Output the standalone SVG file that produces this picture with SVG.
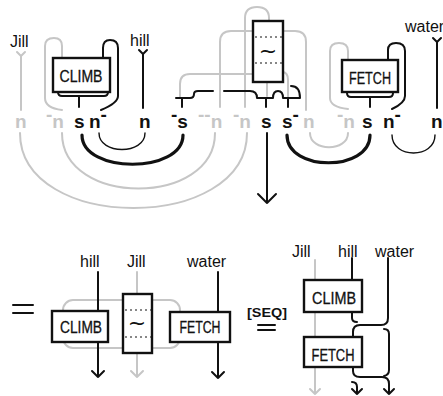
<svg xmlns="http://www.w3.org/2000/svg" width="443" height="396" viewBox="0 0 443 396">
<style>
.w{fill:none;stroke:#111;stroke-width:2;stroke-linecap:round;stroke-linejoin:round}
.wt{fill:none;stroke:#111;stroke-width:1.4;stroke-linecap:round}
.wk{fill:none;stroke:#111;stroke-width:3.2;stroke-linecap:round}
.g{fill:none;stroke:#c6c6c6;stroke-width:2;stroke-linecap:round;stroke-linejoin:round}
.box{fill:#fff;stroke:#111;stroke-width:2.4}
.dash{stroke:#111;stroke-width:1.2;stroke-dasharray:2 3}
.lbl{font-family:"Liberation Sans",Arial,sans-serif;font-size:16px;fill:#111}
.bt{font-family:"Liberation Sans",Arial,sans-serif;font-size:17px;fill:#111;stroke:#111;stroke-width:0.3}
.sw{font-family:"DejaVu Sans",sans-serif;font-size:22px;fill:#111}
.ty{font-family:"Liberation Sans",Arial,sans-serif;font-size:19px;font-weight:bold;fill:#111}
.tg{font-family:"Liberation Sans",Arial,sans-serif;font-size:19px;font-weight:bold;fill:#c6c6c6}
</style>
<rect width="443" height="396" fill="#fff"/>
<g id="connectors">
  <path class="g" d="M17,52 L21,56 L25,52 M21,56 L21,110"/>
  <path class="g" d="M62,58 L62,46 Q62,38 54,38 Q45,38 45,46 L45,98 Q45,108 62,110"/>
  <path class="g" d="M245,107 L245,18 Q245,7 257,7 Q269,7 269,18 L269,21"/>
  <path class="g" d="M220,107 L220,42 Q220,31 231,31 L295,31 Q306,31 306,42 L306,110"/>
  <path class="g" d="M180,97 L180,84 Q180,74 190,74 L253,74"/>
  <path class="g" d="M282,72 Q288,72 288,80 L288,97"/>
  <path class="g" d="M267,82 L267,96"/>
  <path class="g" d="M348,60 L348,51 Q348,43 339,43 Q330,43 330,51 L330,98 Q330,107 348,109"/>
  <path class="w" d="M139,50 L143,54 L147,50 M143,54 L143,108"/>
  <path class="w" d="M433,38 L437,42 L441,38 M437,42 L437,108"/>
  <path class="w" d="M103,58 L103,48 Q103,40 110,40 Q118,40 118,48 L118,96 Q118,103 101,110"/>
  <path class="w" d="M388,60 L388,50 Q388,43 396,43 Q405,43 405,51 L405,96 Q405,103 392,109"/>
  <path class="w" stroke-width="2.6" d="M58,92 Q58,96 62,96 L104,96 Q108,96 108,92 M79,96 L79,107"/>
  <path class="w" stroke-width="2.6" d="M347,93 Q347,97 351,97 L389,97 Q393,97 393,93 M370,97 L370,107"/>
  <path class="w" stroke-width="2.6" d="M176,98 L190,98 Q194,98 194,94 Q194,91 198,91 L213,91 M182,98 L182,107"/>
  <path class="w" stroke-width="2.6" d="M224,91 L250,91 Q257,91 257,98 L273,98 Q273,91 278,91 Q283,91 283,98 L300,98 Q300,86 291,86 M266,98 L266,107 M288,98 L288,107"/>
  <path class="wt" d="M99,133 C99,155 145,155 145,133"/>
  <path class="wk" d="M82,135 C82,174 183,174 183,135"/>
  <path class="g" d="M62,133 C62,207 215,207 215,133"/>
  <path class="g" d="M20,133 C20,233 247,233 247,133"/>
  <path class="w" stroke-width="2.6" d="M267,133 L267,203 M258,194 L267,203 L276,194"/>
  <path class="wk" d="M287,135 C287,172 370,172 370,135"/>
  <path class="g" d="M310,133 C310,152 348,152 348,133"/>
  <path class="wt" d="M392,135 C392,159 435,159 435,135"/>
  <rect class="g" x="63" y="300" width="117" height="48" rx="10"/>
  <path class="w" d="M98,272 L98,377 M92,371 L98,377 L104,371"/>
  <path class="g" d="M137,272 L137,377 M131,371 L137,377 L143,371"/>
  <path class="w" d="M218,272 L218,378 M212,372 L218,378 L224,372"/>
  <path class="g" d="M315,260 L315,394 M310,389 L315,394 L320,389"/>
  <path class="w" d="M352,258 L352,318 Q352,322 357,322"/>
  <path class="w" d="M388,258 L388,318 Q388,325 381,325 L360,325 Q353,325 353,332 L353,337"/>
  <path class="w" d="M384,329 Q389,329 389,334 L389,370 Q389,375 384,376"/>
  <path class="w" d="M353,367 L353,371 Q353,377 360,377 L382,377 Q389,377 389,384 L389,394 M384,389 L389,394 L394,389"/>
  <path class="w" d="M352,382 Q357,382 357,387 L357,394 M352,389 L357,394 L362,389"/>
</g>
<g id="climb-top">
  <rect class="box" x="53" y="58" width="57" height="34"/>
  <text class="bt" x="81" y="82" text-anchor="middle" textLength="43" lengthAdjust="spacingAndGlyphs">CLIMB</text>
</g>
<g id="swap-top">
  <rect class="box" x="253" y="21" width="30" height="61"/>
  <line class="dash" x1="255" y1="37" x2="282" y2="37"/>
  <line class="dash" x1="255" y1="63" x2="282" y2="63"/>
  <text class="sw" x="268" y="58" text-anchor="middle">~</text>
</g>
<g id="fetch-top">
  <rect class="box" x="342" y="60" width="56" height="32"/>
  <text class="bt" x="370" y="84" text-anchor="middle" textLength="42" lengthAdjust="spacingAndGlyphs">FETCH</text>
</g>
<g id="inputs-top">
  <text class="lbl" x="10" y="47">Jill</text>
  <text class="lbl" x="130" y="46">hill</text>
  <text class="lbl" x="405" y="32" font-size="15">water</text>
</g>
<g id="types">
  <text class="tg" x="15" y="128">n</text>
  <text class="tg" x="46" y="128"><tspan dy="-7">-</tspan><tspan dy="7">n</tspan></text>
  <text class="ty" x="74" y="128">s</text>
  <text class="ty" x="89" y="128">n<tspan dy="-7">-</tspan></text>
  <text class="ty" x="139" y="128">n</text>
  <text class="ty" x="171" y="128"><tspan dy="-7">-</tspan><tspan dy="7">s</tspan></text>
  <text class="tg" x="198" y="128"><tspan dy="-7">--</tspan><tspan dy="7">n</tspan></text>
  <text class="tg" x="233" y="128"><tspan dy="-7">-</tspan><tspan dy="7">n</tspan></text>
  <text class="ty" x="261" y="128">s</text>
  <text class="ty" x="282" y="128">s<tspan dy="-7">-</tspan></text>
  <text class="tg" x="303" y="128">n</text>
  <text class="tg" x="337" y="128"><tspan dy="-7">-</tspan><tspan dy="7">n</tspan></text>
  <text class="ty" x="362" y="128">s</text>
  <text class="ty" x="383" y="128">n<tspan dy="-7">-</tspan></text>
  <text class="ty" x="431" y="128">n</text>
</g>
<g id="equals-1">
  <path class="w" stroke-width="1.5" d="M13,305 L33,305 M13,313 L33,313"/>
</g>
<g id="climb-bottom">
  <rect class="box" x="52" y="311" width="56" height="31"/>
  <text class="bt" x="81" y="333" text-anchor="middle" textLength="42" lengthAdjust="spacingAndGlyphs">CLIMB</text>
</g>
<g id="swap-bottom">
  <rect class="box" x="123" y="294" width="29" height="59"/>
  <line class="dash" x1="125" y1="310" x2="151" y2="310"/>
  <line class="dash" x1="125" y1="337" x2="151" y2="337"/>
  <text class="sw" x="137" y="330" text-anchor="middle">~</text>
</g>
<g id="fetch-bottom">
  <rect class="box" x="170" y="312" width="60" height="30"/>
  <text class="bt" x="200" y="333" text-anchor="middle" textLength="41" lengthAdjust="spacingAndGlyphs">FETCH</text>
</g>
<g id="inputs-bottom">
  <text class="lbl" x="80" y="267" font-size="17">hill</text>
  <text class="lbl" x="127" y="267" font-size="17">Jill</text>
  <text class="lbl" x="187" y="267" font-size="17">water</text>
</g>
<g id="seq-eq">
  <text x="247" y="317" font-family="Liberation Sans, Arial, sans-serif" font-size="13" font-weight="bold" fill="#111" textLength="40" lengthAdjust="spacingAndGlyphs">[SEQ]</text>
  <path class="w" stroke-width="2.5" d="M258,325 L275,325 M258,330 L275,330"/>
</g>
<g id="climb-seq">
  <rect class="box" x="304" y="280" width="58" height="32"/>
  <text class="bt" x="334" y="304" text-anchor="middle" textLength="44" lengthAdjust="spacingAndGlyphs">CLIMB</text>
</g>
<g id="fetch-seq">
  <rect class="box" x="304" y="337" width="58" height="30"/>
  <text class="bt" x="333" y="361" text-anchor="middle" textLength="43" lengthAdjust="spacingAndGlyphs">FETCH</text>
</g>
<g id="inputs-seq">
  <text class="lbl" x="292" y="257" font-size="17">Jill</text>
  <text class="lbl" x="338" y="257" font-size="17">hill</text>
  <text class="lbl" x="375" y="257" font-size="17">water</text>
</g>
</svg>
